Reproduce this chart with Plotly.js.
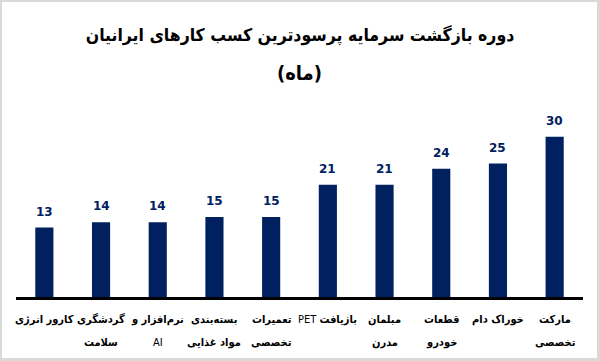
<!DOCTYPE html>
<html>
<head>
<meta charset="utf-8">
<script src="https://cdn.plot.ly/plotly-3.0.1.min.js"></script>
<style>
html,body{margin:0;padding:0;background:#fff;}
#wrap{position:relative;width:600px;height:361px;}
#chart{width:600px;height:361px;}
#frame{position:absolute;left:0;top:0;width:600px;height:361px;box-sizing:border-box;border:2px solid #d9d9d9;border-right-width:3px;border-bottom-width:3px;pointer-events:none;}
</style>
</head>
<body>
<div id="wrap"><div id="chart"></div><div id="frame"></div></div>
<script>
const categories = ["c1","c2","c3","c4","c5","c6","c7","c8","c9","c10"];
const labelLine1 = [
  "<b>کارور انرژی</b>",
  "<b>گردشگری</b>",
  "<b>نرم‌افزار و</b>",
  "<b>بسته‌بندی</b>",
  "<b>تعمیرات</b>",
  "PET <b>بازیافت</b>",
  "<b>مبلمان</b>",
  "<b>قطعات</b>",
  "<b>خوراک دام</b>",
  "<b>مارکت</b>"
];
const labelLine2 = [
  "",
  "<b>سلامت</b>",
  "AI",
  "<b>مواد غذایی</b>",
  "<b>تخصصی</b>",
  "",
  "<b>مدرن</b>",
  "<b>خودرو</b>",
  "",
  "<b>تخصصی</b>"
];
const values = [13, 14, 14, 15, 15, 21, 21, 24, 25, 30];
const titleLine1 = "دوره بازگشت سرمایه پرسودترین کسب کارهای ایرانیان";
const titleLine2 = "(ماه)";

const navy = "#002060";
const font = "DejaVu Sans, sans-serif";
const cfont = "DejaVu Sans Condensed, DejaVu Sans, sans-serif";

const trace = {
  type: "bar",
  x: categories,
  y: values,
  width: 0.32,
  marker: {color: navy},
  hoverinfo: "none"
};

const H = 361, T = 120, B = 64;
const py = (px) => (H - B - px) / (H - T - B);  // pixel row -> paper fraction

const annotations = values.map((v, i) => ({
  x: categories[i], y: v, xref: "x", yref: "y",
  text: "<b>" + v + "</b>", showarrow: false,
  yanchor: "bottom", yshift: 7,
  font: {family: font, size: 12, color: navy}
}));
labelLine1.forEach((t, i) => annotations.push({
  x: categories[i], y: py(319), xref: "x", yref: "paper", yanchor: "middle",
  text: t, showarrow: false,
  font: {family: cfont, size: 11, color: "#000"}
}));
labelLine2.forEach((t, i) => { if (t) annotations.push({
  x: categories[i], y: py(342), xref: "x", yref: "paper", yanchor: "middle",
  text: t, showarrow: false,
  font: {family: cfont, size: 11, color: "#000"}
}); });
annotations.push({
  x: 0.5, y: py(73), xref: "paper", yref: "paper", yanchor: "middle",
  text: "<b>" + titleLine2 + "</b>", showarrow: false,
  font: {family: cfont, size: 20, color: "#000"}
});

const layout = {
  width: 600, height: 361,
  margin: {l: 16, r: 17, t: T, b: B},
  paper_bgcolor: "#fff", plot_bgcolor: "#fff",
  showlegend: false,
  title: {
    text: "<b>" + titleLine1 + "</b>",
    x: 0.5, xanchor: "center", y: 1 - 35 / H, yanchor: "middle",
    font: {family: cfont, size: 17.5, color: "#000"}
  },
  xaxis: {
    type: "category", range: [-0.5, 9.5], showticklabels: false,
    showline: true, linecolor: "#000", linewidth: 3,
    ticks: "", showgrid: false, zeroline: false, fixedrange: true
  },
  yaxis: {
    range: [0, 33.15], visible: false, showgrid: false, zeroline: false, fixedrange: true
  },
  annotations: annotations
};

Plotly.newPlot("chart", [trace], layout, {displayModeBar: false, staticPlot: true});
</script>
</body>
</html>
